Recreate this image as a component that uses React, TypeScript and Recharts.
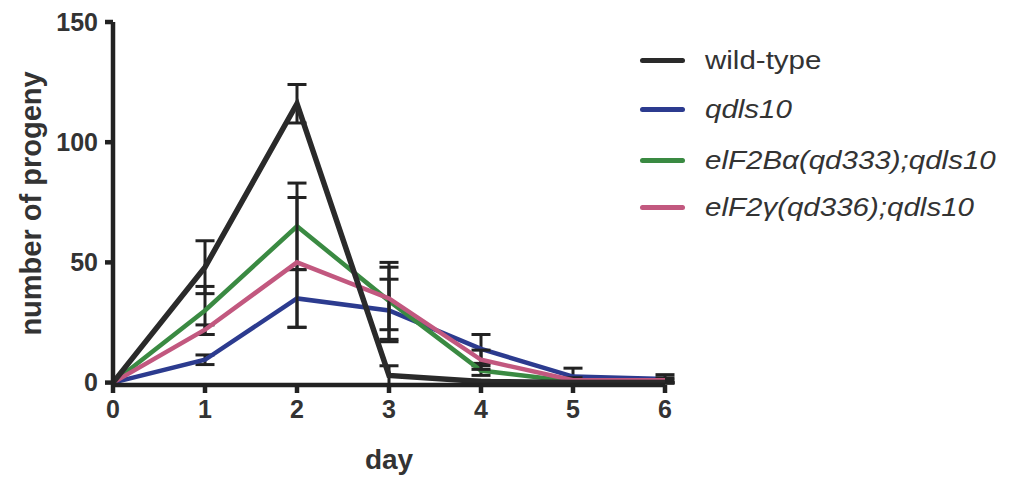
import {
  LineChart,
  Line,
  XAxis,
  YAxis,
  ErrorBar,
  Legend,
} from 'recharts';

const days = [0, 1, 2, 3, 4, 5, 6];

const wildType = [0, 48, 116, 3, 0.5, 0, 0];
const wildTypeErr = [0, 11, 8, 4, 0.5, 0, 0];

const qdIs10 = [0, 9.5, 35, 30, 14, 2.5, 1.5];
const qdIs10Err = [0, 2, 12, 13, 6, 3.5, 1.8];

const eif2b = [0, 30, 65, 34, 5, 0.5, 0.5];
const eif2bErr = [0, 10, 18, 16, 2, 0.5, 0.5];

const eif2g = [0, 22, 50, 35, 9.5, 1, 1];
const eif2gErr = [0, 2, 27, 13, 4, 1, 1];

const yTicks = [0, 50, 100, 150];

const SERIES = [
  { key: 'qd', err: 'qdErr', name: 'qdIs10', label: 'qdls10', color: '#2c3b8f', width: 4.5, italic: true },
  { key: 'b', err: 'bErr', name: 'eIF2Ba', label: 'elF2Bα(qd333);qdls10', color: '#3a8a42', width: 4.5, italic: true },
  { key: 'g', err: 'gErr', name: 'eIF2g', label: 'elF2γ(qd336);qdls10', color: '#c2587f', width: 4.5, italic: true },
  { key: 'wt', err: 'wtErr', name: 'wild-type', label: 'wild-type', color: '#2a2a2a', width: 5.5, italic: false },
];

const LEGEND_ORDER = ['wt', 'qd', 'b', 'g'];
const LEGEND_ROWS = [44, 54, 48, 46];

const data = days.map((d, i) => ({
  day: d,
  wt: wildType[i],
  wtErr: wildTypeErr[i],
  qd: qdIs10[i],
  qdErr: qdIs10Err[i],
  b: eif2b[i],
  bErr: eif2bErr[i],
  g: eif2g[i],
  gErr: eif2gErr[i],
}));

const AXIS = '#222';
const FONT = 'Liberation Sans, Arial, sans-serif';
const tickStyle = { fontSize: 25, fontWeight: 700, fill: '#333', fontFamily: FONT };

function LegendBox() {
  return (
    <div style={{ fontFamily: FONT, color: '#333' }}>
      {LEGEND_ORDER.map((k, i) => {
        const s = SERIES.find((x) => x.key === k)!;
        return (
          <div key={k} style={{ display: 'flex', alignItems: 'center', height: LEGEND_ROWS[i] }}>
            <span style={{ display: 'inline-block', width: 45, height: 5, borderRadius: 3, background: s.color }} />
            <span
              style={{
                marginLeft: 20,
                fontSize: 25,
                fontStyle: s.italic ? 'italic' : 'normal',
                transform: 'scaleX(1.18)',
                transformOrigin: 'left center',
                whiteSpace: 'nowrap',
              }}
            >
              {s.label}
            </span>
          </div>
        );
      })}
    </div>
  );
}

export default function App() {
  return (
    <LineChart
      width={1008}
      height={469}
      data={data}
      margin={{ top: 14, right: 351, left: 15, bottom: 2 }}
    >
      <XAxis
        dataKey="day"
        type="number"
        domain={[0, 6]}
        ticks={days}
        axisLine={{ stroke: AXIS, strokeWidth: 4.5 }}
        tickLine={{ stroke: AXIS, strokeWidth: 4.5 }}
        tickSize={8}
        tickMargin={7}
        tick={tickStyle}
        height={90}
        label={{
          value: 'day',
          position: 'insideBottom',
          offset: 6,
          style: { fontSize: 28, fontWeight: 700, fill: '#333', fontFamily: FONT },
        }}
      />
      <YAxis
        type="number"
        domain={[0, 150]}
        ticks={yTicks}
        axisLine={{ stroke: AXIS, strokeWidth: 4.5 }}
        tickLine={{ stroke: AXIS, strokeWidth: 4.5 }}
        tickSize={8}
        tickMargin={7}
        tick={tickStyle}
        width={90}
        label={{
          value: 'number of progeny',
          angle: -90,
          position: 'insideLeft',
          offset: 8,
          style: { textAnchor: 'middle', fontSize: 29, fontWeight: 700, fill: '#333', fontFamily: FONT },
        }}
      />
      <Legend
        layout="horizontal"
        verticalAlign="middle"
        align="center"
        content={<LegendBox />}
        wrapperStyle={{ left: 632, top: 30, width: 370 }}
      />
      {SERIES.map((s) => (
        <Line
          key={s.key}
          dataKey={s.key}
          name={s.name}
          stroke={s.color}
          strokeWidth={s.width}
          dot={false}
          activeDot={false}
          isAnimationActive={false}
        >
          <ErrorBar dataKey={s.err} width={9.5} stroke={AXIS} strokeWidth={3} direction="y" isAnimationActive={false} />
        </Line>
      ))}
    </LineChart>
  );
}
